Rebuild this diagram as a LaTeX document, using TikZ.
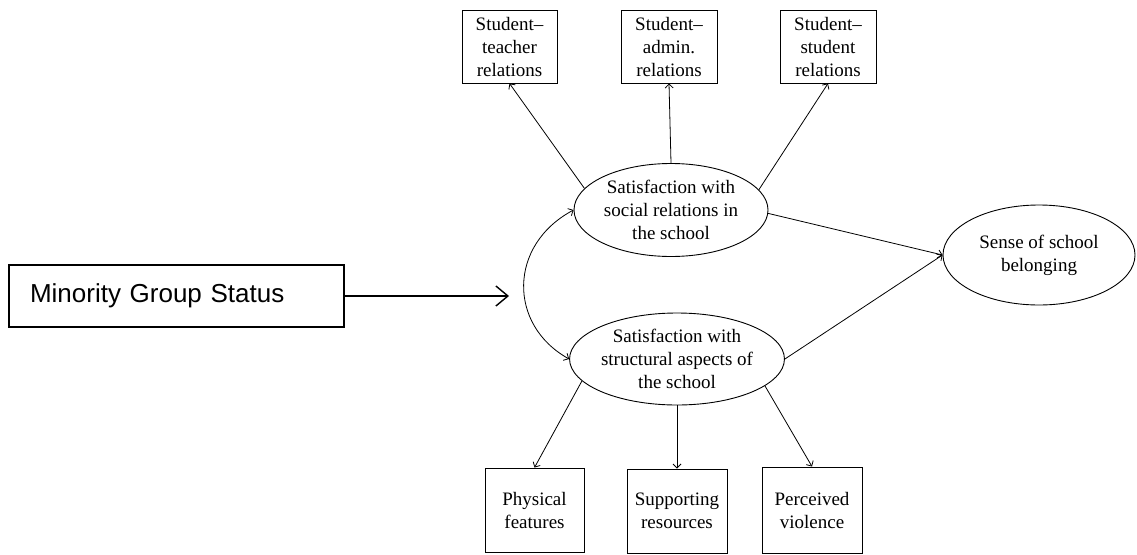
\documentclass[tikz,border=0pt]{standalone}
\usepackage{fontspec}
\setmainfont{Liberation Serif}
\newfontfamily\arialfont{Liberation Sans}
\usetikzlibrary{shapes.geometric,arrows.meta}

\tikzset{
  lbl/.style={font=\fontsize{19}{23}\selectfont, align=center, inner sep=0pt},
  indbox/.style={lbl, draw, line width=0.9pt},
  latent/.style={lbl, draw, ellipse, line width=0.9pt},
  path/.style={line width=0.8pt, -{Straight Barb[length=4pt,width=8pt]}},
  bipath/.style={line width=0.8pt, {Straight Barb[length=4pt,width=8pt]}-{Straight Barb[length=4pt,width=8pt]}},
  groupbox/.style={draw, line width=1.4pt, inner sep=0pt,
    font=\arialfont\fontsize{26}{30}\selectfont,
    minimum width=335pt, minimum height=62pt,
    text width=293pt, align=left},
  grouparrow/.style={line width=1.4pt, -{Straight Barb[length=12pt,width=20pt]}}
}

\begin{document}
\begin{tikzpicture}[x=1pt,y=-1pt]
  \useasboundingbox (0,0) rectangle (1137,554);

  % latent constructs
  \node[latent, minimum width=194pt, minimum height=93pt] (soc) at (671,210)
    {Satisfaction with\\social relations in\\the school};
  \node[latent, minimum width=196pt, minimum height=92pt] (str) at (677,359)
    {Satisfaction with\\structural aspects of\\the school};
  \node[latent, minimum width=192pt, minimum height=100pt] (bel) at (1039,255)
    {Sense of school\\belonging};

  % indicators of social relations
  \node[indbox, minimum width=95pt, minimum height=73pt] (st) at (509.5,46.5)
    {Student\textendash\\teacher\\relations};
  \node[indbox, minimum width=96pt, minimum height=73pt] (sa) at (669,46.5)
    {Student\textendash\\admin.\\relations};
  \node[indbox, minimum width=96pt, minimum height=73pt] (ss) at (828,46.5)
    {Student\textendash\\student\\relations};

  % indicators of structural aspects
  \node[indbox, minimum width=99pt, minimum height=84pt] (pf) at (534.5,510)
    {Physical\\features};
  \node[indbox, minimum width=100pt, minimum height=84pt] (sr) at (677,511)
    {Supporting\\resources};
  \node[indbox, minimum width=100pt, minimum height=86pt] (pv) at (812,510)
    {Perceived\\violence};

  % predictor
  \node[groupbox] (mgs) at (176.5,296) {Minority Group Status};
  \coordinate (mgsend) at (509,296);

  % loadings
  \draw[path] (soc.166) -- (st.south);
  \draw[path] (soc.north) -- (sa.south);
  \draw[path] (soc.13) -- (ss.south);
  \draw[path] (str.193) -- (pf.north);
  \draw[path] (str.south) -- (sr.north);
  \draw[path] (str.-17) -- (pv.north);

  % structural paths
  \draw[path] (soc.-2) -- (bel.west);
  \draw[path] (str.east) -- (bel.west);
  \draw[bipath] (soc.west) .. controls (508,245) and (508,325) .. (str.west);
  \draw[grouparrow] (mgs.east) -- (mgsend);
\end{tikzpicture}
\end{document}
